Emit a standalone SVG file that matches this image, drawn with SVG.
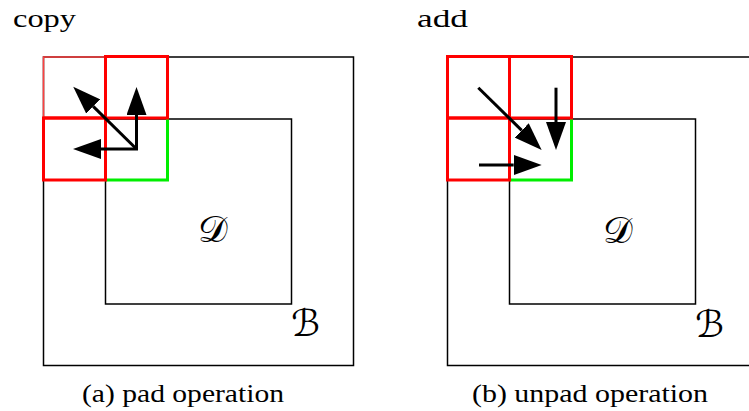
<svg xmlns="http://www.w3.org/2000/svg" width="749" height="411" viewBox="0 0 749 411">
<style>
.box{fill:none;stroke:#000;stroke-width:1.5}
.red{fill:none;stroke:#ff0000;stroke-width:3}
.green{fill:none;stroke:#00ee00;stroke-width:3}
.arr{fill:none;stroke:#000;stroke-width:3;stroke-linejoin:miter}
.t{font-family:"Liberation Serif","Times New Roman",serif;font-size:25px;fill:#000}
.m{font-family:"DejaVu Serif","DejaVu Sans",serif;font-size:37px;fill:#000}
</style>
<defs>
<marker id="ah" markerUnits="userSpaceOnUse" markerWidth="28" markerHeight="20" viewBox="0 0 28 20" refX="0" refY="10" orient="auto-start-reverse">
<path d="M0,0 L28,10 L0,20 Z" fill="#000"/>
</marker>
</defs>
<g id="panel-a">
<g id="a-outer"><rect class="box" x="43.5" y="57" width="310" height="308.5"/></g>
<g id="a-inner"><rect class="box" x="105.5" y="119" width="186" height="185"/></g>
<g id="a-green"><path class="green" d="M105.5,180 H167.5 V118"/></g>
<g id="a-red-tl"><path d="M43.5,118 V57 H105.5" fill="none" stroke="#ff4040" stroke-width="1.5"/><path class="red" d="M105.5,57 V118 H43.5"/></g>
<g id="a-red-t"><rect class="red" x="105.5" y="56.5" width="62" height="61.5"/></g>
<g id="a-red-l"><rect class="red" x="43.5" y="118" width="62" height="62"/></g>
<text class="m" x="198" y="242">𝒟</text>
<text class="m" x="291" y="336">ℬ</text>
</g>
<g id="panel-b">
<g id="b-outer"><path class="box" d="M760,57 H447.5 V365.5 H760"/></g>
<g id="b-inner"><rect class="box" x="509.5" y="119" width="186" height="185"/></g>
<g id="b-green"><path class="green" d="M509.5,180 H571.5 V118"/></g>
<g id="b-red-tl"><rect class="red" x="447.5" y="56.5" width="62" height="61.5"/></g>
<g id="b-red-t"><rect class="red" x="509.5" y="56.5" width="62" height="61.5"/></g>
<g id="b-red-l"><rect class="red" x="447.5" y="118" width="62" height="62"/></g>
<text class="m" x="603" y="243">𝒟</text>
<text class="m" x="695" y="337">ℬ</text>
</g>
<g id="connectors">
<path class="arr" d="M136.5,115 V149 H101" marker-start="url(#ah)" marker-end="url(#ah)"/>
<path class="arr" d="M136.5,149 L93.2,106.4" marker-end="url(#ah)"/>
<path class="arr" d="M478.3,87.7 L521.7,130.4" marker-end="url(#ah)"/>
<path class="arr" d="M556,87.7 V122" marker-end="url(#ah)"/>
<path class="arr" d="M479,165 H513.7" marker-end="url(#ah)"/>
</g>
<text class="t" x="13" y="27" textLength="63" lengthAdjust="spacingAndGlyphs">copy</text>
<text class="t" x="417" y="27" textLength="51" lengthAdjust="spacingAndGlyphs">add</text>
<text class="t" x="82" y="402" textLength="202" lengthAdjust="spacingAndGlyphs">(a) pad operation</text>
<text class="t" x="472" y="402" textLength="236" lengthAdjust="spacingAndGlyphs">(b) unpad operation</text>
</svg>
